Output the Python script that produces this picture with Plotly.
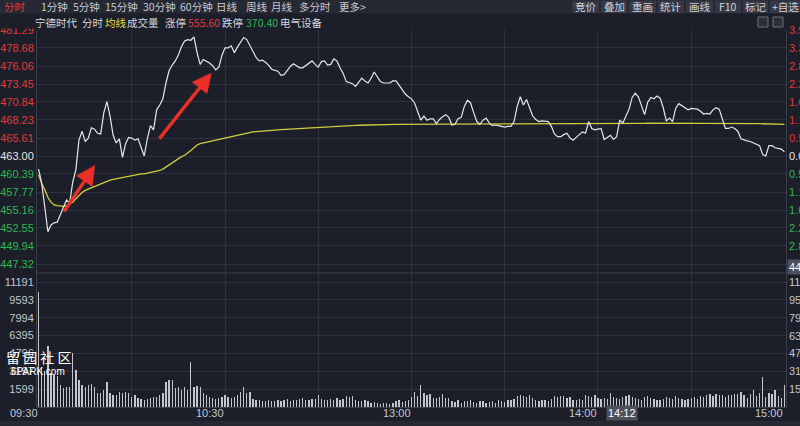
import plotly.graph_objects as go

# ---------------- data ----------------
time_labels = ["09:30", "10:30", "13:00", "14:00", "15:00"]
time_label_minutes = [0, 60, 120, 180, 240]
cursor_time = "14:12"
cursor_minute = 192
cursor_price = 446.89

price = [
    461.1, 459.1, 455.6, 452.0, 453.0, 453.3, 453.4, 454.4, 455.6, 456.6,
    456.2, 459.2, 461.0, 465.3, 466.6, 465.1, 465.6, 467.1, 466.9, 466.3,
    466.2, 469.3, 470.9, 468.8, 466.0, 464.9, 465.5, 462.8, 464.8, 465.7,
    465.6, 465.3, 465.5, 464.1, 463.0, 465.5, 467.4, 466.8, 469.7, 470.4,
    471.3, 473.6, 475.4, 476.2, 476.8, 477.7, 478.9, 479.7, 479.9, 479.8,
    480.3, 478.0, 476.3, 477.0, 476.8, 476.5, 476.1, 475.5, 475.9, 477.6,
    478.7, 478.7, 479.0, 478.0, 478.8, 479.6, 480.2, 479.9, 479.0, 478.0,
    477.3, 476.8, 476.9, 476.6, 476.2, 475.6, 475.4, 475.3, 474.7, 474.8,
    475.4, 476.0, 476.4, 476.1, 475.8, 475.8, 476.1, 476.4, 476.8, 476.3,
    475.9, 476.7, 476.8, 476.2, 476.3, 477.1, 476.8, 475.8, 475.0, 473.8,
    473.7, 473.5, 473.1, 473.8, 474.3, 473.9, 473.6, 474.3, 475.2, 474.5,
    473.8, 473.6, 473.6, 473.6, 473.9, 473.9, 473.3, 472.6, 472.0, 471.6,
    471.3, 470.7, 469.4, 468.2, 468.8, 468.2, 468.4, 468.4, 467.7, 468.3,
    468.7, 469.0, 468.6, 467.5, 467.6, 468.4, 468.6, 470.2, 471.1, 470.7,
    469.3, 468.0, 467.6, 468.2, 468.5, 467.8, 467.4, 467.5, 467.4, 467.3,
    467.2, 467.3, 467.3, 468.0, 470.2, 471.6, 470.4, 471.2, 470.0, 468.8,
    468.3, 468.0, 468.1, 468.1, 468.0, 467.3, 466.2, 465.8, 465.8, 466.1,
    466.3, 465.6, 465.3, 465.7, 466.1, 466.5, 466.3, 468.0, 467.0, 466.8,
    466.9, 467.0, 465.4, 465.7, 466.0, 465.4, 465.8, 468.2, 467.8, 468.8,
    469.8, 471.5, 472.1, 471.6, 470.4, 469.0, 470.8, 471.5, 471.3, 471.7,
    471.4, 470.0, 468.1, 468.5, 468.0, 469.9, 470.6, 470.3, 470.1, 469.7,
    469.9, 469.9, 469.8, 469.5, 469.1, 469.2, 469.1, 469.7, 470.0, 469.8,
    468.4, 467.0, 467.0, 467.2, 467.0, 466.6, 465.5, 465.3, 465.2, 465.1,
    464.9, 464.7, 464.5, 463.2, 463.0, 464.5, 464.5, 464.2, 464.1, 464.0,
    463.6,
]

avg_price = [
    460.3, 459.0, 458.1, 457.0, 456.3, 455.9, 455.8, 455.7, 455.7, 455.8,
    456.0, 456.3, 456.8, 457.3, 457.7, 458.0, 458.2, 458.4, 458.6, 458.8,
    459.0, 459.1, 459.3, 459.5, 459.6, 459.7, 459.8, 459.9, 460.0, 460.1,
    460.2, 460.3, 460.3, 460.4, 460.4, 460.5, 460.5, 460.6, 460.7, 460.9,
    461.1, 461.4, 461.8, 462.1, 462.4, 462.7, 462.9, 463.1, 463.4, 463.8,
    464.2, 464.6, 464.8, 464.9, 465.1, 465.2, 465.3, 465.4, 465.5, 465.6,
    465.7, 465.8, 465.9, 466.0, 466.1, 466.2, 466.3, 466.4, 466.45, 466.5,
    466.55, 466.6, 466.65, 466.7, 466.72, 466.75, 466.78, 466.8, 466.82, 466.85,
    466.88, 466.9, 466.93, 466.96, 467.0, 467.03, 467.06, 467.1, 467.13, 467.16,
    467.2, 467.22, 467.24, 467.26, 467.28, 467.3, 467.32, 467.34, 467.36, 467.38,
    467.4, 467.42, 467.44, 467.46, 467.48, 467.5, 467.5, 467.52, 467.53, 467.54,
    467.55, 467.56, 467.57, 467.58, 467.58, 467.59, 467.59, 467.6, 467.6, 467.6,
    467.6, 467.6, 467.61, 467.61, 467.62, 467.62, 467.62, 467.63, 467.63, 467.63,
    467.64, 467.64, 467.64, 467.64, 467.65, 467.65, 467.65, 467.66, 467.66, 467.67,
    467.67, 467.67, 467.68, 467.68, 467.68, 467.68, 467.69, 467.69, 467.69, 467.7,
    467.7, 467.7, 467.7, 467.71, 467.72, 467.72, 467.73, 467.73, 467.74, 467.74,
    467.74, 467.74, 467.74, 467.74, 467.74, 467.74, 467.74, 467.74, 467.73, 467.73,
    467.73, 467.73, 467.72, 467.72, 467.72, 467.72, 467.72, 467.72, 467.72, 467.72,
    467.72, 467.72, 467.72, 467.71, 467.71, 467.71, 467.71, 467.71, 467.71, 467.72,
    467.72, 467.73, 467.74, 467.74, 467.75, 467.75, 467.76, 467.76, 467.77, 467.77,
    467.78, 467.78, 467.78, 467.78, 467.78, 467.79, 467.79, 467.79, 467.79, 467.79,
    467.8, 467.8, 467.8, 467.8, 467.8, 467.8, 467.8, 467.8, 467.8, 467.8,
    467.8, 467.79, 467.79, 467.78, 467.77, 467.76, 467.75, 467.74, 467.73, 467.72,
    467.71, 467.7, 467.69, 467.68, 467.67, 467.66, 467.65, 467.64, 467.63, 467.62,
    467.6,
]

volume = [
    10300, 3600, 3200, 5500, 3000, 2900, 2800, 2000, 1700, 1800,
    1800, 4800, 3300, 2400, 2000, 1800, 2000, 2060, 1800, 1250,
    1250, 1500, 2270, 1250, 1070, 1100, 1370, 1250, 1370, 1250,
    920, 1070, 780, 700, 630, 700, 780, 920, 900, 1070,
    1250, 2270, 2400, 2400, 1670, 1800, 1520, 1800, 1520, 4000,
    1800, 1850, 1800, 1250, 1070, 920, 780, 700, 850, 900,
    1070, 920, 800, 920, 1100, 1300, 1800, 1250, 1370, 700,
    650, 600, 550, 500, 600, 550, 500, 650, 550, 600,
    700, 500, 650, 600, 700, 800, 650, 600, 750, 700,
    1070, 700, 650, 600, 700, 650, 800, 600, 700, 980,
    900, 980, 600, 550, 500, 650, 500, 400, 450, 350,
    300, 350, 400, 300, 350, 500, 600, 450, 550, 600,
    920, 1370, 1000, 1970, 1220, 1100, 1200, 850, 800, 900,
    1150, 800, 850, 500, 450, 600, 400, 550, 500, 600,
    450, 400, 500, 550, 350, 450, 500, 400, 600, 550,
    450, 600, 650, 700, 1000, 1070, 950, 900, 1050, 850,
    600, 550, 650, 600, 500, 700, 980, 900, 1000, 950,
    850, 900, 650, 600, 700, 650, 1070, 1000, 900, 1050,
    800, 750, 800, 700, 1270, 900, 800, 700, 900, 1000,
    1100, 900, 800, 700, 650, 900, 1000, 800, 700, 600,
    650, 750, 900, 800, 700, 1000, 850, 700, 650, 700,
    800, 900, 700, 1000, 900, 1100, 1200, 1000, 1150, 1050,
    1100, 900, 1100, 1050, 1150, 1200, 1300, 1100, 800, 1200,
    1500, 1000, 1250, 2700, 900, 1250, 1150, 1520, 1000, 800,
    1970,
]
minutes = list(range(len(price)))

prev_close = 463.00
price_ticks = [447.32, 449.94, 452.55, 455.16, 457.77, 460.39, 463.00,
               465.61, 468.23, 470.84, 473.45, 476.06, 478.68, 481.29]
volume_ticks = [1599, 3197, 4796, 6395, 7994, 9593, 11191]

limit_up = "555.60"
limit_down = "370.40"
stock_name = "宁德时代"
sector = "电气设备"
menu_left = ["1分钟", "5分钟", "15分钟", "30分钟", "60分钟", "日线", "周线", "月线", "多分时", "更多>"]
menu_left_x = [54, 86, 121, 159, 196, 227, 257, 282, 315, 352]
menu_right = ["竞价", "叠加", "重画", "统计", "画线", "F10", "标记", "+自选"]
menu_right_box = [(572, 599), (601, 627), (629, 656), (658, 684), (686, 713), (715, 741), (743, 768), (770, 800)]

# arrows drawn on the chart (minute, price): tail -> head
arrows = [((7.9, 454.7), (18.2, 461.7)), ((38.5, 465.3), (55.7, 475.1))]

# ---------------- style / layout ----------------
W, H = 800, 426
L, R, T, B = 37, 786, 30, 407
BG = "#1c1f2a"
GRID = "#2e323d"
RED = "#e2393b"
GREEN = "#2eb74f"
WHITE = "#e6e6e6"
GREY = "#c4c6cc"
FONT = "Liberation Sans, Arial, Noto Sans CJK SC"
CJK = "Noto Sans CJK SC, Liberation Sans"


def fx(x):
    return (x - L) / (R - L)


def fy(y):
    return (B - y) / (B - T)


split = fy(273)
price_lo = prev_close - (273 - 156) / 18 * 2.6129
price_hi = 481.29
vol_hi = 11191 * (B - 273) / (B - 282)


def pcolor(v):
    if abs(v - prev_close) < 1e-6:
        return WHITE
    return RED if v > prev_close else GREEN


left_price_text = [f'<span style="color:{pcolor(v)}">{v:.2f}</span>' for v in price_ticks]
vol_text = [str(v) for v in volume_ticks]

fig = go.Figure()
fig.add_trace(go.Bar(x=minutes, y=volume, yaxis="y2", width=0.42,
                     marker=dict(color="#c3c5cb", line=dict(width=0)), hoverinfo="skip"))
fig.add_trace(go.Scatter(x=minutes, y=avg_price, yaxis="y", mode="lines",
                         line=dict(color="#cfcd3c", width=1.3), hoverinfo="skip"))
fig.add_trace(go.Scatter(x=minutes, y=price, yaxis="y", mode="lines",
                         line=dict(color="#e6e6ea", width=1.2), hoverinfo="skip"))

axis_common = dict(showgrid=True, gridcolor=GRID, gridwidth=1, zeroline=False, ticks="",
                   showline=True, linecolor="#3a3e4a", linewidth=1, automargin=False)

fig.update_layout(
    width=W, height=H,
    margin=dict(l=L, r=W - R, t=T, b=H - B, pad=0, autoexpand=False),
    paper_bgcolor=BG, plot_bgcolor=BG,
    showlegend=False, bargap=0, hovermode=False,
    font=dict(family=FONT, size=11, color=GREY),
    xaxis=dict(domain=[0, 1], range=[-0.5, 240.5], anchor="y2",
               tickvals=[30, 60, 90, 120, 150, 180, 210], showticklabels=False,
               showgrid=True, gridcolor=GRID, zeroline=False, ticks="", automargin=False,
               showline=True, linecolor="#3a3e4a"),
    yaxis=dict(domain=[split, 1], range=[price_lo, price_hi], tickvals=price_ticks,
               ticktext=left_price_text, mirror=True, tickfont=dict(size=11, family=FONT),
               **axis_common),
    yaxis2=dict(domain=[0, split], range=[0, vol_hi], tickvals=volume_ticks, ticktext=vol_text,
                mirror=True, tickfont=dict(size=11, family=FONT, color=GREY), **axis_common),
)

shapes = []
# brighter midday separator line
shapes.append(dict(type="line", xref="x", yref="paper", x0=120, x1=120, y0=0, y1=1,
                   line=dict(color="#3d414d", width=1), layer="below"))
# divider between price and volume panels
shapes.append(dict(type="line", xref="paper", yref="paper", x0=0, x1=1, y0=split, y1=split,
                   line=dict(color="#3a3e4a", width=1)))
# header bands
shapes.append(dict(type="rect", xref="paper", yref="paper", x0=fx(0), x1=fx(W), y0=fy(13.5), y1=fy(28.5),
                   fillcolor=BG, line=dict(width=0), layer="above"))
shapes.append(dict(type="rect", xref="paper", yref="paper", x0=fx(0), x1=fx(W), y0=fy(0), y1=fy(13.5),
                   fillcolor="#262933", line=dict(width=0), layer="above"))
for (a, b) in menu_right_box:
    shapes.append(dict(type="rect", xref="paper", yref="paper", x0=fx(a), x1=fx(b), y0=fy(0.5), y1=fy(13),
                       fillcolor="#343844", line=dict(width=0), layer="above"))
# small icons top-right
for (a, b) in [(758, 768), (773, 783)]:
    shapes.append(dict(type="rect", xref="paper", yref="paper", x0=fx(a), x1=fx(b), y0=fy(17), y1=fy(27),
                       fillcolor="#2c2f39", line=dict(color="#6c707a", width=1), layer="above"))
# bottom strip
shapes.append(dict(type="rect", xref="paper", yref="paper", x0=fx(0), x1=fx(W), y0=fy(421), y1=fy(H),
                   fillcolor="#262933", line=dict(width=0), layer="above"))
fig.update_layout(shapes=shapes)

ann = []
# right-side percentage labels for the price panel
for v in price_ticks:
    pct = abs(v - prev_close) / prev_close * 100
    ann.append(dict(text=f"{pct:.2f}%", x=1, y=v, xref="paper", yref="y", showarrow=False,
                    font=dict(family=FONT, size=11, color=pcolor(v)), xanchor="left", yanchor="middle",
                    xshift=1))
# right-side volume labels
for v in volume_ticks:
    ann.append(dict(text=str(v), x=1, y=v, xref="paper", yref="y2", showarrow=False,
                    font=dict(family=FONT, size=11, color=GREY), xanchor="left", yanchor="middle",
                    xshift=1))
# top-left menu
ann.append(dict(text="分时", x=fx(15), y=fy(6.5), xref="paper", yref="paper", showarrow=False,
                font=dict(family=CJK, size=10.5, color=RED), xanchor="center", yanchor="middle"))
for t, cx in zip(menu_left, menu_left_x):
    ann.append(dict(text=t, x=fx(cx), y=fy(6.5), xref="paper", yref="paper", showarrow=False,
                    font=dict(family=CJK, size=10.5, color="#c8cad0"), xanchor="center", yanchor="middle"))
for t, (a, b) in zip(menu_right, menu_right_box):
    ann.append(dict(text=t, x=fx((a + b) / 2), y=fy(6.5), xref="paper", yref="paper", showarrow=False,
                    font=dict(family=CJK, size=10.5, color="#d0d2d8"), xanchor="center", yanchor="middle"))
# info row
info = [(stock_name, 56, "#d8d8dc"), ("分时", 93, "#d8d8dc"), ("均线", 116, "#e3dd3c"),
        ("成交量", 143, "#d8d8dc"), ("涨停", 175, "#d8d8dc"), (limit_up, 204, RED),
        ("跌停", 233, "#d8d8dc"), (limit_down, 262, GREEN), (sector, 301, "#d8d8dc")]
for t, cx, c in info:
    ann.append(dict(text=t, x=fx(cx), y=fy(22.5), xref="paper", yref="paper", showarrow=False,
                    font=dict(family=CJK, size=10.5, color=c), xanchor="center", yanchor="middle"))
# time labels (right-aligned on their grid line)
for t, m in zip(time_labels, time_label_minutes):
    ann.append(dict(text=t, x=m, y=fy(413.5), xref="x", yref="paper", showarrow=False,
                    font=dict(family=FONT, size=11, color=GREY), xanchor="right", yanchor="middle",
                    xshift=1))
ann.append(dict(text=cursor_time, x=cursor_minute, y=fy(413.5), xref="x", yref="paper", showarrow=False,
                font=dict(family=FONT, size=11, color="#ffffff"), xanchor="right", yanchor="middle",
                bgcolor="#4c505c", borderpad=1, xshift=3))
# right-side cursor price box
ann.append(dict(text=f"{cursor_price:.2f}", x=1, y=cursor_price, xref="paper", yref="y", showarrow=False,
                font=dict(family=FONT, size=11, color="#ffffff"), xanchor="left", yanchor="middle",
                bgcolor="#4c505c", borderpad=1, xshift=1))
# red arrows
for (tail, head) in arrows:
    ann.append(dict(x=head[0], y=head[1], ax=tail[0], ay=tail[1], xref="x", yref="y",
                    axref="x", ayref="y", text="", showarrow=True, arrowhead=2, arrowsize=1.15,
                    arrowwidth=3.4, arrowcolor="#ea2f27", standoff=0, startstandoff=0))
# watermark
ann.append(dict(text="留 园 社 区", x=fx(38), y=fy(357), xref="paper", yref="paper", showarrow=False,
                font=dict(family=CJK, size=14, color="#ffffff"), xanchor="center", yanchor="middle"))
ann.append(dict(text="6PARK.com", x=fx(38), y=fy(371.5), xref="paper", yref="paper", showarrow=False,
                font=dict(family=FONT, size=10, color="#ffffff"), xanchor="center", yanchor="middle"))
fig.update_layout(annotations=ann)

fig.write_html("out.html", config={"displayModeBar": False, "staticPlot": True},
               post_script="document.body.style.margin='0';document.body.style.overflow='hidden';")
